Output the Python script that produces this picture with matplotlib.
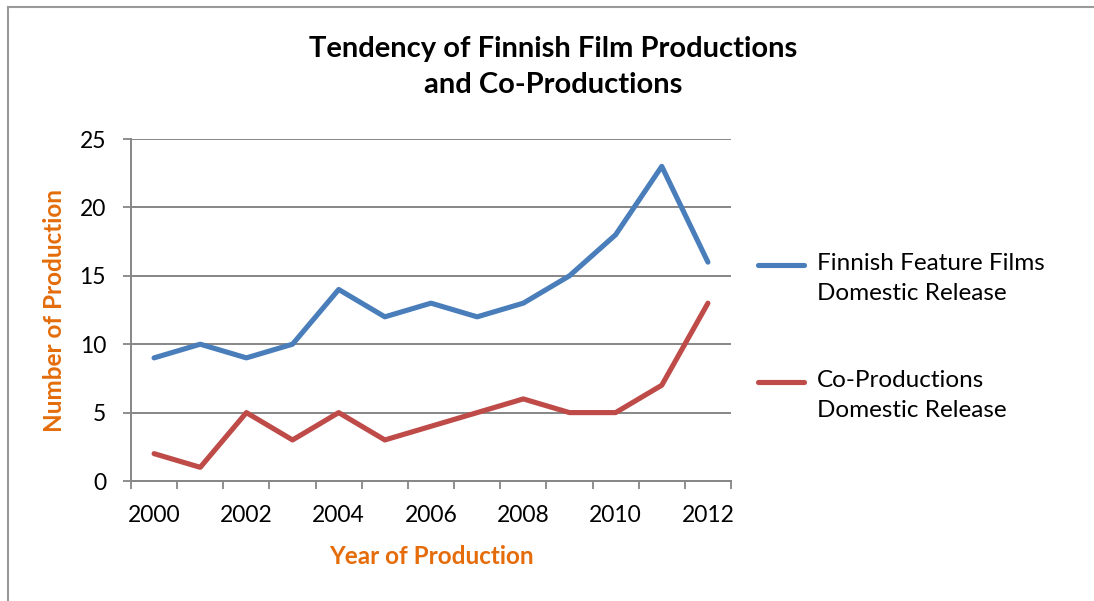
import matplotlib.pyplot as plt
from matplotlib.lines import Line2D
import numpy as np

years = [2000, 2001, 2002, 2003, 2004, 2005, 2006, 2007, 2008, 2009, 2010, 2011, 2012]
feature_films = [9, 10, 9, 10, 14, 12, 13, 12, 13, 15, 18, 23, 16]
co_productions = [2, 1, 5, 3, 5, 3, 4, 5, 6, 5, 5, 7, 13]
series_labels = ["Finnish Feature Films\nDomestic Release", "Co-Productions\nDomestic Release"]
colors = ['#4A7EBB', '#BE4B48']

plt.rcParams['font.family'] = ['Lato', 'DejaVu Sans']

W, H = 1094, 601
fig = plt.figure(figsize=(W / 100, H / 100), dpi=100)
ax = fig.add_axes([131 / W, 1 - 481 / H, 600 / W, 342 / H])

x = np.arange(len(years))
for vals, c in zip([feature_films, co_productions], colors):
    ax.plot(x, vals, color=c, lw=3.7, solid_capstyle='round', solid_joinstyle='round')

ax.set_xlim(-0.5, len(years) - 0.5)
ax.set_ylim(0, 25)
ax.set_yticks(range(0, 26, 5))
ax.set_xticks(x[::2])
ax.set_xticklabels([str(y) for y in years[::2]])
ax.set_xticks(np.arange(-0.5, len(years), 1), minor=True)
ax.tick_params(axis='x', which='major', length=0, labelsize=16.5, pad=17)
ax.tick_params(axis='x', which='minor', length=6, width=1.3, color='#868686')
ax.tick_params(axis='y', length=6, width=1.3, color='#868686', labelsize=16.5, pad=12)

ax.grid(axis='y', color='#868686', lw=1.4)
ax.set_axisbelow(True)
for s in ['top', 'right']:
    ax.spines[s].set_visible(False)
for s in ['left', 'bottom']:
    ax.spines[s].set_color('#868686')
    ax.spines[s].set_linewidth(1.4)

ax.set_ylabel('Number of Production', color='#E46C0A', fontsize=17.5, fontweight='bold', labelpad=10)
ax.set_xlabel('Year of Production', color='#E46C0A', fontsize=17.5, fontweight='bold', labelpad=14)

fig.text(553 / W, 1 - 67 / H, 'Tendency of Finnish Film Productions\nand Co-Productions',
         ha='center', va='center', fontsize=21, fontweight='bold', linespacing=1.45)

# legend: handle aligned with the first line of each label
for label, c, ly in zip(series_labels, colors, [265, 382]):
    fig.add_artist(Line2D([758 / W, 804 / W], [1 - ly / H] * 2, color=c, lw=3.7,
                          solid_capstyle='round'))
    fig.text(817 / W, 1 - (ly - 12) / H, label, ha='left', va='top', fontsize=17.5,
             linespacing=1.55)

# chart frame (left and top edges)
fig.add_artist(Line2D([8 / W, 8 / W], [0, 1 - 7 / H], color='#9a9a9a', lw=1.5))
fig.add_artist(Line2D([8 / W, 1], [1 - 7 / H, 1 - 7 / H], color='#9a9a9a', lw=1.5))

fig.savefig('out.png', dpi=100)
